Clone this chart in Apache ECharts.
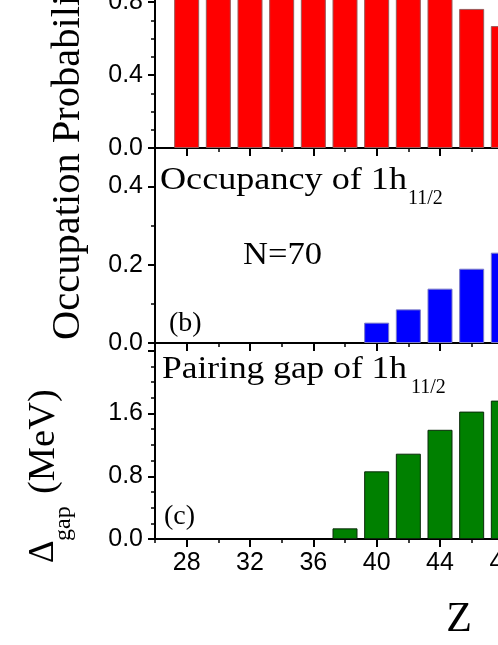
<!DOCTYPE html>
<html><head><meta charset="utf-8">
<script src="https://cdn.jsdelivr.net/npm/echarts@6/dist/echarts.min.js"></script>
<style>html,body{margin:0;padding:0;background:#fff}#c{width:498px;height:645px}</style>
</head><body><div id="c"></div>
<script>
// ---- data ----
const zValues   = [28, 30, 32, 34, 36, 38, 40, 42, 44, 46, 48];
const occProb   = [1.0, 1.0, 1.0, 1.0, 1.0, 1.0, 1.0, 1.0, 1.0, 0.762, 0.668];
const occ1h     = [0, 0, 0, 0, 0, 0, 0.052, 0.086, 0.139, 0.190, 0.231];
const gap1h     = [0, 0, 0, 0, 0, 0.136, 0.863, 1.088, 1.393, 1.625, 1.765];
const xMajorTicks = [28, 32, 36, 40, 44, 48];
const xRange = [26, 50];
const yMaxA = 1.0, yMaxB = 0.5, yMaxC = 2.5;

const chart = echarts.init(document.getElementById('c'), null, {renderer: 'canvas'});
const SANS = 'Liberation Sans, Arial, sans-serif';
const SERIF = 'Liberation Serif, Times New Roman, serif';
const BLACK = '#000';

const L = 155, W = 380;
const gridBase = {left: L, width: W, containLabel: false, outerBoundsMode: 'none'};
const grids = [
  Object.assign({top: -34.5, height: 182.5}, gridBase),
  Object.assign({top: 147.5, height: 195.5}, gridBase),
  Object.assign({top: 343, height: 196}, gridBase)
];

function xMajor(g, showLabel) {
  return {
    type: 'value', gridIndex: g, min: xRange[0], max: xRange[1], position: 'bottom',
    axisLine: {show: true, onZero: false, lineStyle: {color: BLACK, width: 2}},
    axisTick: {show: true, customValues: xMajorTicks, length: 8, inside: false, lineStyle: {color: BLACK, width: 2}},
    axisLabel: {show: showLabel, customValues: xMajorTicks, margin: 12, color: BLACK, fontFamily: SANS, fontSize: 25},
    splitLine: {show: false}
  };
}
function xMinor(g) {
  return {
    type: 'value', gridIndex: g, min: xRange[0], max: xRange[1], interval: 2, position: 'bottom',
    axisLine: {show: false, onZero: false},
    axisTick: {show: true, length: 4, lineStyle: {color: BLACK, width: 1.5}},
    axisLabel: {show: false}, splitLine: {show: false}
  };
}
function yMajor(g, max, interval, labelLimit) {
  return {
    type: 'value', gridIndex: g, min: 0, max: max, interval: interval, position: 'left',
    axisLine: {show: true, onZero: false, lineStyle: {color: BLACK, width: 2}},
    axisTick: {show: true, length: 7, lineStyle: {color: BLACK, width: 2}},
    axisLabel: {show: true, showMaxLabel: false, margin: 12, color: BLACK, fontFamily: SANS, fontSize: 25,
      formatter: v => (v <= labelLimit + 1e-9 ? v.toFixed(1) : '')},
    splitLine: {show: false}
  };
}
function yMinor(g, max, interval) {
  return {
    type: 'value', gridIndex: g, min: 0, max: max, interval: interval, position: 'left',
    axisLine: {show: false, onZero: false},
    axisTick: {show: true, length: 4, lineStyle: {color: BLACK, width: 1.5}},
    axisLabel: {show: false}, splitLine: {show: false}
  };
}

function barSeries(idx, values, color, border) {
  return {
    type: 'bar', xAxisIndex: idx, yAxisIndex: idx, barWidth: 25,
    data: zValues.map((z, i) => values[i] === 0
      ? {value: [z, 0], itemStyle: {borderWidth: 0, opacity: 0}}
      : [z, values[i]]),
    itemStyle: {color: color, borderColor: border, borderWidth: 1},
    z: 3
  };
}

function txt(x, y, text, size, opts) {
  opts = opts || {};
  return {
    type: 'text', x: x, y: y, rotation: opts.rot || 0, scaleX: opts.sx || 1, z: 10,
    style: {text: text, fill: BLACK, font: size + 'px ' + SERIF,
      align: opts.align || 'left', verticalAlign: 'middle'}
  };
}
// place text by baseline (serif middle ~0.305em above baseline)
function tb(x, baseline, text, size, opts) { return txt(x, baseline - 0.305 * size, text, size, opts); }

const R = Math.PI / 2;
const option = {
  animation: false,
  backgroundColor: '#fff',
  grid: grids,
  xAxis: [xMajor(0, false), xMinor(0), xMajor(1, false), xMinor(1), xMajor(2, true), xMinor(2)],
  yAxis: [yMajor(0, yMaxA, 0.4, 0.8), yMinor(0, yMaxA, 0.1),
          yMajor(1, yMaxB, 0.2, 0.4), yMinor(1, yMaxB, 0.1),
          yMajor(2, yMaxC, 0.8, 1.6), yMinor(2, yMaxC, 0.2)],
  series: [
    barSeries(0, occProb, '#ff0000', '#9a5a5a'),
    barSeries(2, occ1h, '#0000ff', '#7a7ac8'),
    barSeries(4, gap1h, '#008000', '#0a2a0a')
  ],
  graphic: [
    // y-axis names (rotated)
    txt(68, 340, 'Occupation Probability', 40.5, {rot: R}),
    txt(44.3, 563, 'Δ', 35, {rot: R}),
    txt(63.7, 541, 'gap', 24, {rot: R}),
    txt(43.4, 494, '(MeV)', 38.5, {rot: R}),
    // panel b
    tb(160, 190, 'Occupancy of 1h', 32, {sx: 1.13}),
    tb(408, 205, '11/2', 20),
    tb(243, 265, 'N=70', 32, {sx: 1.08}),
    tb(169, 332, '(b)', 28),
    // panel c
    tb(162, 379, 'Pairing gap of 1h', 32, {sx: 1.107}),
    tb(411, 394, '11/2', 20),
    tb(164, 525, '(c)', 28),
    // x name
    tb(459, 633, 'Z', 42, {align: 'center'})
  ]
};
chart.setOption(option);
</script>
</body></html>
